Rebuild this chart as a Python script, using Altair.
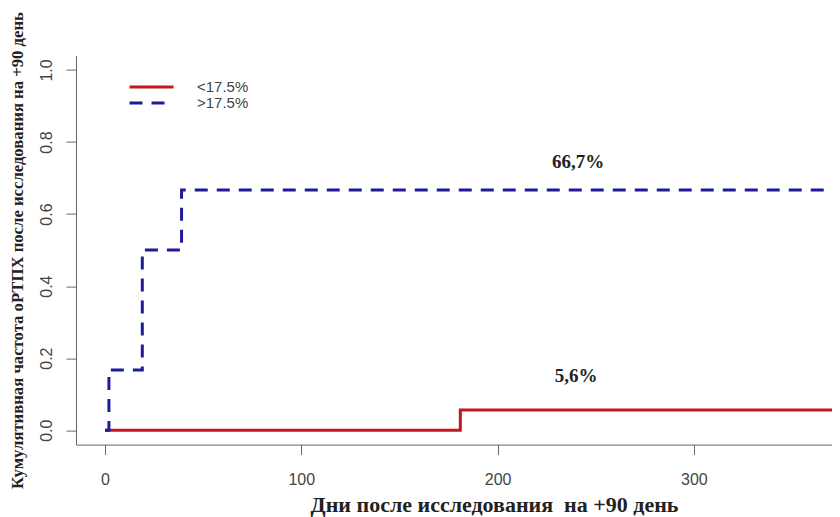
import altair as alt
import pandas as pd

# Data
group_labels = ["<17.5%", ">17.5%"]
low_days = [0, 181, 400]
low_cuminc = [0.0, 0.056, 0.056]
high_days = [0, 2, 19, 39, 400]
high_cuminc = [0.0, 0.167, 0.5, 0.667, 0.667]

annot_text = ["66,7%", "5,6%"]
annot_days = [241, 240]
annot_y = [0.745, 0.15]

x_ticks = [0, 100, 200, 300]
y_ticks = [0.0, 0.2, 0.4, 0.6, 0.8, 1.0]

rows = []
for d, v in zip(low_days, low_cuminc):
    rows.append({"day": d, "cuminc": v, "group": group_labels[0]})
for d, v in zip(high_days, high_cuminc):
    rows.append({"day": d, "cuminc": v, "group": group_labels[1]})
df = pd.DataFrame(rows)
ann = pd.DataFrame({"label": annot_text, "day": annot_days, "y": annot_y})

x_scale = alt.Scale(domain=[-14.77, 370.35], nice=False, zero=False)
y_scale = alt.Scale(domain=[-0.04, 1.04], nice=False, zero=False)

legend_cfg = alt.Legend(
    title=None,
    orient="none",
    legendX=68,
    legendY=24,
    symbolType="M-4,0H4",
    symbolSize=121,
    symbolStrokeWidth=3,
    labelFont="Liberation Sans",
    labelFontSize=15,
    labelColor="#444444",
    labelOffset=38,
    rowPadding=0,
    padding=0,
)

lines = alt.Chart(df).mark_line(interpolate="step-after", strokeWidth=3, clip=True).encode(
    x=alt.X("day:Q", scale=x_scale,
            axis=alt.Axis(values=x_ticks, title="Дни после исследования\u00a0 на +90 день",
                          titleX=418, titleY=60, titleBaseline="middle", titleAlign="center",
                          titleFont="Liberation Serif", titleFontSize=22, titleFontWeight="bold",
                          titleColor="#222222",
                          labelFont="Liberation Sans", labelFontSize=16, labelColor="#444444",
                          labelPadding=17, tickSize=10, tickColor="#666666",
                          domainColor="#666666", grid=False)),
    y=alt.Y("cuminc:Q", scale=y_scale,
            axis=alt.Axis(values=y_ticks, format=".1f",
                          title="Кумулятивная частота оРТПХ после исследования на +90 день",
                          titleX=-59, titleBaseline="middle", titleAngle=270,
                          titleFont="Liberation Serif", titleFontSize=16.7, titleFontWeight="bold",
                          titleColor="#222222",
                          labelAngle=270, labelAlign="center", labelBaseline="bottom",
                          labelFont="Liberation Sans", labelFontSize=16, labelColor="#444444",
                          labelPadding=12, tickSize=10, tickColor="#666666",
                          domainColor="#666666", grid=False)),
    color=alt.Color("group:N", scale=alt.Scale(domain=group_labels, range=["#C4161C", "#1C1C9A"]),
                    legend=legend_cfg),
    strokeDash=alt.StrokeDash("group:N", scale=alt.Scale(domain=group_labels, range=[[1, 0], [13, 9]]),
                              legend=legend_cfg),
)

texts = alt.Chart(ann).mark_text(font="Liberation Serif", fontSize=19, fontWeight="bold",
                                 color="#222222").encode(
    x=alt.X("day:Q", scale=x_scale),
    y=alt.Y("y:Q", scale=y_scale),
    text="label:N",
)

chart = alt.layer(lines, texts).properties(
    width=756,
    height=389,
    autosize=alt.AutoSizeParams(type="none"),
    padding={"left": 68, "top": 47.6, "right": 0, "bottom": 74},
    background="white",
).configure_view(stroke=None)

chart.save("out.html", embed_options={"renderer": "svg", "actions": False})
